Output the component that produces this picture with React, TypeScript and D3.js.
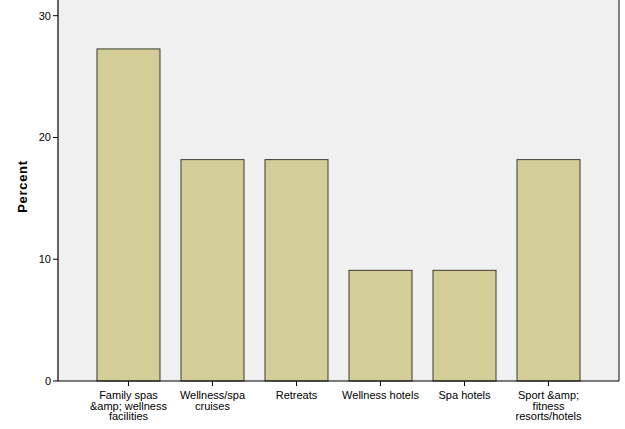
import React from "react";
import * as d3 from "d3";

const categories = [
  "Family spas &amp; wellness facilities",
  "Wellness/spa cruises",
  "Retreats",
  "Wellness hotels",
  "Spa hotels",
  "Sport &amp; fitness resorts/hotels",
];
const labelLines = [
  ["Family spas", "&amp; wellness", "facilities"],
  ["Wellness/spa", "cruises"],
  ["Retreats"],
  ["Wellness hotels"],
  ["Spa hotels"],
  ["Sport &amp;", "fitness", "resorts/hotels"],
];
const percents = [27.27, 18.18, 18.18, 9.09, 9.09, 18.18];
const yTicks = [0, 10, 20, 30];
const yLabel = "Percent";

const W = 625;
const H = 429;
const left = 58;
const right = 619;
const bottom = 381;

export default function App() {
  const x = d3
    .scaleBand<string>()
    .domain(categories)
    .range([left, right])
    .paddingInner(0.25)
    .paddingOuter(0.464);
  const y = d3.scaleLinear().domain([0, 30]).range([bottom, 15.7]);
  const font = "Arial, 'Liberation Sans', sans-serif";

  return (
    <svg
      width={W}
      height={H}
      style={{ position: "absolute", left: 0, top: 0, background: "#ffffff" }}
      fontFamily={font}
    >
      <rect x={left} y={0} width={right - left} height={bottom} fill="#f0f0f0" />
      {categories.map((c, i) => (
        <rect
          key={c}
          x={x(c)}
          y={y(percents[i])}
          width={x.bandwidth()}
          height={y(0) - y(percents[i])}
          fill="#d3ce97"
          stroke="#3a3a30"
          strokeWidth={1}
        />
      ))}
      <line x1={left} x2={left} y1={0} y2={bottom} stroke="#000" strokeWidth={1.2} />
      <line x1={right} x2={right} y1={0} y2={bottom} stroke="#333" strokeWidth={1.2} />
      <line x1={left} x2={right} y1={bottom} y2={bottom} stroke="#000" strokeWidth={1.2} />
      {yTicks.map((t) => (
        <g key={t}>
          <line x1={left - 5} x2={left} y1={y(t)} y2={y(t)} stroke="#000" />
          <text
            x={left - 7}
            y={y(t)}
            dy="0.35em"
            textAnchor="end"
            fontSize={11}
            fill="#000"
          >
            {t}
          </text>
        </g>
      ))}
      {categories.map((c, i) => {
        const cx = (x(c) as number) + x.bandwidth() / 2;
        return (
          <g key={c}>
            <line x1={cx} x2={cx} y1={bottom} y2={bottom + 5} stroke="#000" />
            {labelLines[i].map((ln, j) => (
              <text
                key={j}
                x={cx}
                y={399 + j * 10.5}
                textAnchor="middle"
                fontSize={11}
                fill="#000"
              >
                {ln}
              </text>
            ))}
          </g>
        );
      })}
      <text
        transform={`translate(26.5,${186.5}) rotate(-90)`}
        textAnchor="middle"
        fontSize={13}
        letterSpacing={0.7}
        fontWeight="bold"
        fill="#000"
      >
        {yLabel}
      </text>
    </svg>
  );
}
